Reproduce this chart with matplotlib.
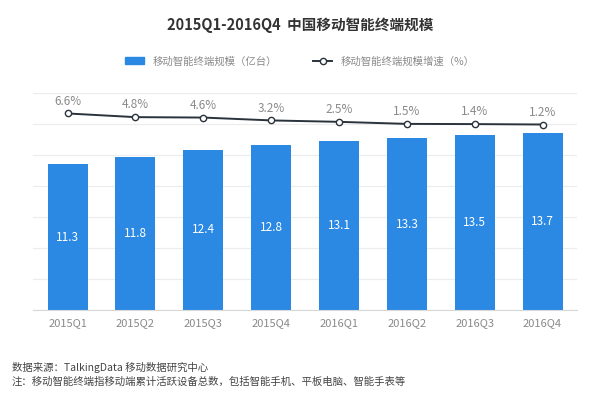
import numpy as np
import matplotlib
matplotlib.use("Agg")
from matplotlib import pyplot as plt
from matplotlib.patches import Patch
from matplotlib.lines import Line2D

plt.rcParams['font.family'] = ['Noto Sans CJK SC', 'DejaVu Sans']

quarters = ['2015Q1', '2015Q2', '2015Q3', '2015Q4', '2016Q1', '2016Q2', '2016Q3', '2016Q4']
scale = [11.3, 11.8, 12.4, 12.8, 13.1, 13.3, 13.5, 13.7]
growth = [6.6, 4.8, 4.6, 3.2, 2.5, 1.5, 1.4, 1.2]

bar_color = '#2B89E3'
line_color = '#2A323C'
grey = '#8A8A8A'

fig = plt.figure(figsize=(6, 3.95), dpi=100)
ax = fig.add_axes([0.055, 0.215, 0.907, 0.55])
x = np.arange(len(quarters))

ax.bar(x, scale, width=0.59, color=bar_color, zorder=2)
for xi, v in zip(x, scale):
    ax.text(xi, v / 2, f'{v:.1f}', color='white', ha='center', va='center', fontsize=8.5, zorder=3)

ax.set_xlim(-0.51, len(quarters) - 0.49)
ax.set_ylim(0, 16.8)
ax.set_yticks(np.arange(0, 16.81, 2.4))
ax.yaxis.grid(True, color='#ECECEC', linewidth=0.8, zorder=0)
ax.set_xticks(x)
ax.set_xticklabels(quarters, color=grey, fontsize=8)
ax.tick_params(axis='x', length=0, pad=6)
for s in ['top', 'right', 'left']:
    ax.spines[s].set_visible(False)
ax.spines['bottom'].set_color('#D8D8D8')

ax2 = ax.twinx()
ax2.set_ylim(-89.6, 16.7)
ax2.plot(x, growth, color=line_color, linewidth=1.4, marker='o', markersize=4.5,
         markerfacecolor='white', markeredgecolor=line_color, markeredgewidth=1, zorder=4)
for xi, g in zip(x, growth):
    ax2.text(xi, g + 2.8, f'{g:.1f}%', color=grey, ha='center', va='bottom', fontsize=8.5)
ax2.axis('off')
ax.tick_params(axis='y', left=False, right=False, labelleft=False, labelright=False)

fig.text(0.5, 0.937, '2015Q1-2016Q4  中国移动智能终端规模', ha='center', va='center',
         fontsize=10.5, fontweight='bold', color='#333333')

handles = [Patch(color=bar_color, label='移动智能终端规模（亿台）'),
           Line2D([0], [0], color=line_color, marker='o', markerfacecolor='white',
                  markersize=4.5, linewidth=1.4, label='移动智能终端规模增速（%）')]
fig.legend(handles=handles, loc='center', bbox_to_anchor=(0.5, 0.845), ncol=2, frameon=False,
           fontsize=7.5, labelcolor=grey, handlelength=1.8, handleheight=0.6, columnspacing=3.5)

fig.text(0.02, 0.07, '数据来源：TalkingData 移动数据研究中心', fontsize=7.5, color='#444444', va='center')
fig.text(0.02, 0.035, '注：移动智能终端指移动端累计活跃设备总数，包括智能手机、平板电脑、智能手表等',
         fontsize=7.5, color='#444444', va='center')

fig.savefig('out.png', dpi=100)
